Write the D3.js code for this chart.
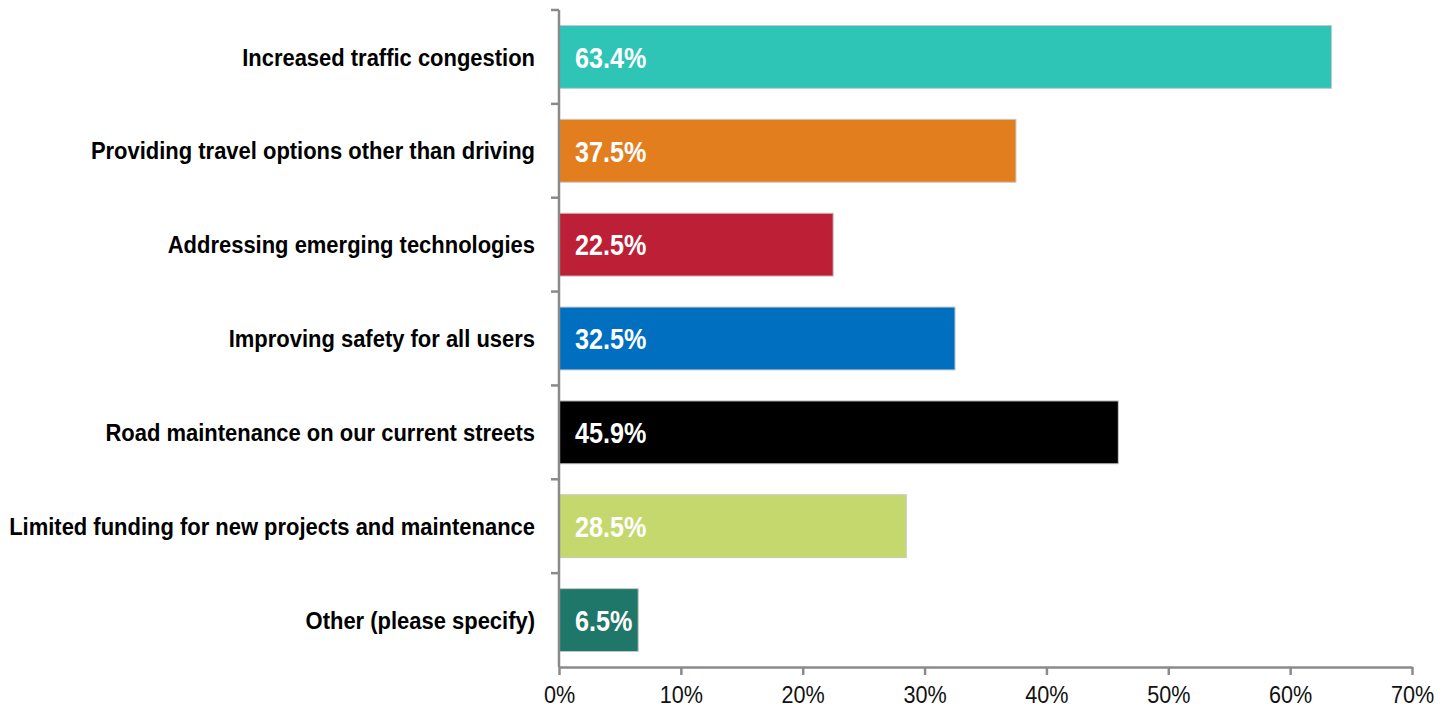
<!DOCTYPE html>
<html>
<head>
<meta charset="utf-8">
<script src="https://cdn.jsdelivr.net/npm/d3@7"></script>
<style>
  body { margin: 0; background: #fff; }
  svg text { font-family: "Liberation Sans Narrow", "Arial Narrow", "Liberation Sans", Arial, sans-serif; }
</style>
</head>
<body>
<div id="chart"></div>
<script>
// chart data
var categories = ['Increased traffic congestion',
    'Providing travel options other than driving',
    'Addressing emerging technologies',
    'Improving safety for all users',
    'Road maintenance on our current streets',
    'Limited funding for new projects and maintenance',
    'Other (please specify)'];
var values = [63.4, 37.5, 22.5, 32.5, 45.9, 28.5, 6.5];
var barColors = ['#2EC4B6', '#E37E1F', '#BD1F36', '#006FBF', '#000000', '#C5D86D', '#1E7768'];
var xTicks = [0, 10, 20, 30, 40, 50, 60, 70];

var margin = { top: 10, right: 30, bottom: 48, left: 559 },
    width = 1412 - margin.left,
    height = 667 - margin.top;

// no narrow font installed, so squeeze text horizontally
var squeeze = 0.915;

var svg = d3.select("#chart")
    .append("svg")
    .attr("width", 1442)
    .attr("height", 715)
    .append("g")
    .attr("transform", "translate(" + margin.left + "," + margin.top + ")");

var x = d3.scaleLinear()
    .domain([0, 70])
    .range([0, width]);

var y = d3.scaleBand()
    .domain(categories)
    .range([0, height])
    .paddingInner(0.33)
    .paddingOuter(0.165);

// bars
svg.append("g")
    .selectAll("rect")
    .data(values)
    .enter().append("rect")
    .attr("x", x(0))
    .attr("y", function (d, i) { return y(categories[i]); })
    .attr("width", function (d) { return x(d) - x(0); })
    .attr("height", y.bandwidth())
    .attr("fill", function (d, i) { return barColors[i]; })
    .attr("stroke", "#c8c8c8")
    .attr("stroke-width", 1);

// value labels inside bars
svg.append("g")
    .selectAll("text")
    .data(values)
    .enter().append("text")
    .attr("transform", function (d, i) {
        return "translate(" + (x(0) + 16) + "," + (y(categories[i]) + y.bandwidth() / 2) + ") scale(0.84,1)";
    })
    .attr("dy", "0.36em")
    .attr("fill", "#fff")
    .style("font-size", "30px")
    .style("font-weight", "bold")
    .text(function (d) { return d.toFixed(1) + "%"; });

// category boundaries on the y axis (ticks between bands)
var step = height / categories.length;
var yAxisG = svg.append("g");
yAxisG.append("line")
    .attr("x1", 0).attr("x2", 0)
    .attr("y1", 0).attr("y2", height)
    .attr("stroke", "#8a8a8a").attr("stroke-width", 2.5);
yAxisG.selectAll("line.tick")
    .data(d3.range(categories.length))
    .enter().append("line")
    .attr("class", "tick")
    .attr("x1", -8).attr("x2", 0)
    .attr("y1", function (d) { return d * step; })
    .attr("y2", function (d) { return d * step; })
    .attr("stroke", "#8a8a8a").attr("stroke-width", 2.5);

yAxisG.selectAll("text")
    .data(categories)
    .enter().append("text")
    .attr("transform", function (d) {
        return "translate(-24," + (y(d) + y.bandwidth() / 2) + ") scale(" + squeeze + ",1)";
    })
    .attr("dy", "0.36em")
    .attr("text-anchor", "end")
    .attr("fill", "#000")
    .style("font-size", "24px")
    .style("font-weight", "bold")
    .text(function (d) { return d; });

// x axis
var xAxis = svg.append("g")
    .attr("transform", "translate(0," + height + ")")
    .call(d3.axisBottom(x).tickValues(xTicks).tickSize(8).tickSizeOuter(0)
        .tickFormat(function (d) { return d + "%"; }));
xAxis.select(".domain").attr("stroke", "#8a8a8a").attr("stroke-width", 2.5);
xAxis.selectAll(".tick line").attr("stroke", "#8a8a8a").attr("stroke-width", 2.5);
xAxis.selectAll(".tick text")
    .attr("y", 0)
    .attr("dy", 0)
    .attr("transform", "translate(0,36) scale(0.9,1)")
    .attr("fill", "#111")
    .style("font-size", "24px");
</script>
</body>
</html>
